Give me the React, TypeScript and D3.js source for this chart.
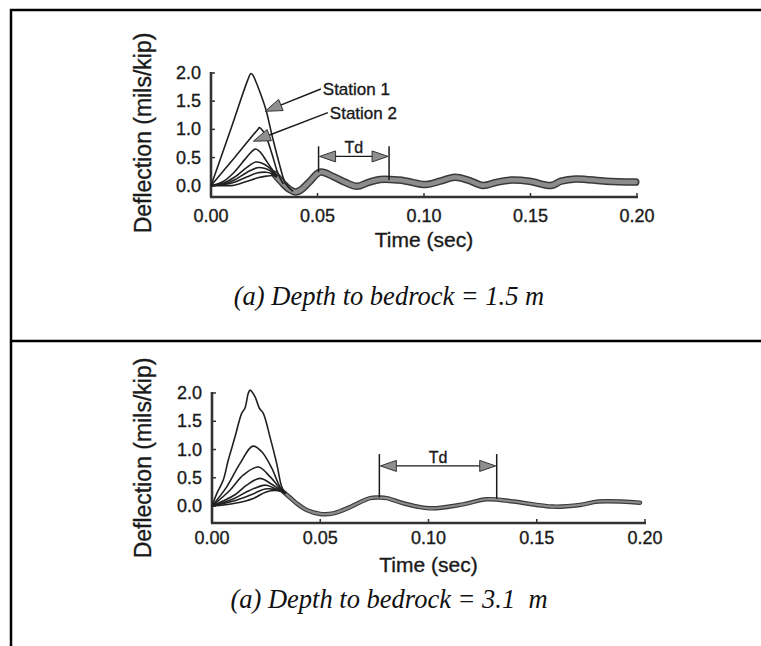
import React from 'react';
import * as d3 from 'd3';

// ---- data ----
const timeTicks = [0, 0.05, 0.1, 0.15, 0.2];
const deflTicks = [0, 0.5, 1.0, 1.5, 2.0];
const timeLabel = 'Time (sec)';
const deflLabel = 'Deflection (mils/kip)';

// Panel A: depth to bedrock 1.5 m  — [time (s), deflection (mils/kip)]
const shallowStations: [number, number][][] = [
  [[0, 0], [0.009, 0.97], [0.0175, 1.9], [0.0187, 1.99], [0.0197, 1.96], [0.0207, 1.88], [0.023, 1.66], [0.0257, 1.36], [0.0288, 0.87], [0.032, 0.4], [0.035, 0.04], [0.0385, -0.1]],
  [[0, 0], [0.0113, 0.51], [0.0218, 0.99], [0.0228, 1.03], [0.0242, 0.98], [0.0258, 0.88], [0.0285, 0.58], [0.0316, 0.2], [0.034, 0.03]],
  [[0, 0], [0.0055, 0.07], [0.0109, 0.24], [0.0171, 0.52], [0.0207, 0.65], [0.0225, 0.62], [0.0241, 0.55], [0.0255, 0.47], [0.0285, 0.3], [0.031, 0.17]],
  [[0, 0], [0.006, 0.05], [0.011, 0.15], [0.017, 0.33], [0.021, 0.42], [0.024, 0.4], [0.027, 0.33], [0.031, 0.17]],
  [[0, 0], [0.006, 0.03], [0.011, 0.1], [0.017, 0.24], [0.0218, 0.32], [0.025, 0.31], [0.028, 0.26], [0.031, 0.17]],
  [[0, 0], [0.006, 0.02], [0.011, 0.06], [0.017, 0.16], [0.022, 0.23], [0.026, 0.24], [0.028, 0.22], [0.031, 0.16]],
  [[0, 0], [0.006, 0.0], [0.011, 0.01], [0.017, 0.08], [0.022, 0.14], [0.026, 0.17], [0.029, 0.18], [0.031, 0.15]],
];
const shallowTail: [number, number][] = [
  [0.030, 0.2], [0.034, 0.03], [0.037, -0.07], [0.0397, -0.11], [0.042, -0.08], [0.046, 0.06], [0.0512, 0.24],
  [0.0575, 0.16], [0.063, 0.06], [0.0685, -0.01], [0.074, 0.06], [0.0794, 0.11], [0.088, 0.1], [0.092, 0.08],
  [0.101, 0.02], [0.1075, 0.08], [0.1145, 0.15], [0.1207, 0.1], [0.1277, 0.005], [0.134, 0.06], [0.141, 0.1],
  [0.1495, 0.08], [0.1597, 0.005], [0.1643, 0.08], [0.1713, 0.12], [0.1854, 0.08], [0.1994, 0.065],
];
const shallowTd = [0.0505, 0.0836];
const shallowCaption = '(a) Depth to bedrock = 1.5 m';

// Panel B: depth to bedrock 3.1 m
const deepStations: [number, number][][] = [
  [[0, 0], [0.0022, 0.22], [0.0052, 0.46], [0.0075, 0.81], [0.0106, 1.22], [0.0137, 1.64], [0.0152, 1.73], [0.0168, 2.0], [0.0176, 2.05], [0.0199, 1.93], [0.0219, 1.73], [0.0237, 1.64], [0.0268, 1.22], [0.0299, 0.75], [0.0322, 0.34], [0.034, 0.22]],
  [[0, 0], [0.0068, 0.34], [0.0129, 0.75], [0.0188, 1.06], [0.023, 0.96], [0.0276, 0.67], [0.0314, 0.34], [0.034, 0.22]],
  [[0, 0], [0.0083, 0.28], [0.0145, 0.55], [0.0214, 0.69], [0.0268, 0.52], [0.031, 0.33], [0.034, 0.22]],
  [[0, 0], [0.0106, 0.2], [0.016, 0.37], [0.0222, 0.49], [0.027, 0.4], [0.031, 0.3], [0.034, 0.22]],
  [[0, 0], [0.01, 0.13], [0.017, 0.27], [0.0245, 0.37], [0.028, 0.33], [0.031, 0.28], [0.034, 0.22]],
  [[0, 0], [0.01, 0.09], [0.018, 0.2], [0.0245, 0.3], [0.028, 0.3], [0.031, 0.27], [0.034, 0.22]],
  [[0, 0], [0.0106, 0.05], [0.0194, 0.14], [0.025, 0.25], [0.031, 0.27], [0.034, 0.22]],
];
const deepTail: [number, number][] = [
  [0.033, 0.25], [0.036, 0.15], [0.039, 0.05], [0.0437, -0.07], [0.05, -0.14], [0.056, -0.13], [0.0637, -0.02],
  [0.073, 0.14], [0.0776, 0.15], [0.0807, 0.14], [0.0884, 0.05], [0.1007, -0.04], [0.116, 0.03], [0.1269, 0.12],
  [0.1392, 0.08], [0.1576, -0.01], [0.17, 0.02], [0.1784, 0.08], [0.1977, 0.06],
];
const deepTd = [0.0773, 0.1315];
const deepCaption = '(a) Depth to bedrock = 3.1  m';

// station call-outs (panel A)
const stationNames = ['Station 1', 'Station 2'];
const stationTips: [number, number][] = [[0.0254, 1.32], [0.0199, 0.79]];
const stationTextPos: [number, number][] = [[0.0525, 1.61], [0.0558, 1.19]];

type Panel = {
  stations: [number, number][][];
  tail: [number, number][];
  td: number[];
  tdLevels: { top: number; arrow: number; text: number; leftBottom: number; rightBottom: number };
  caption: string;
  yMin: number;
  layout: { x0: number; x1: number; yTop: number; yBot: number; tickDy: number; titleY: number; capY: number; ylabY: number };
  tail1: number; tail2: number; callouts: boolean;
};

const panels: Panel[] = [
  {
    stations: shallowStations, tail: shallowTail, td: shallowTd, caption: shallowCaption, yMin: -0.2,
    tdLevels: { top: 0.7, arrow: 0.52, text: 0.585, leftBottom: 0.24, rightBottom: 0.1 },
    layout: { x0: 211, x1: 637, yTop: 73, yBot: 197, tickDy: 25, titleY: 247, capY: 305, ylabY: 133 },
    tail1: 7.5, tail2: 4.5, callouts: true,
  },
  {
    stations: deepStations, tail: deepTail, td: deepTd, caption: deepCaption, yMin: -0.3,
    tdLevels: { top: 0.92, arrow: 0.71, text: 0.76, leftBottom: 0.15, rightBottom: 0.13 },
    layout: { x0: 212, x1: 645, yTop: 393, yBot: 523, tickDy: 21, titleY: 572, capY: 608, ylabY: 458 },
    tail1: 4.5, tail2: 2.2, callouts: false,
  },
];

const SANS = '"Liberation Sans", Arial, sans-serif';
const SERIF = '"Liberation Serif", "Times New Roman", serif';
const INK = '#1a1a1a';
const sansStyle = { stroke: INK, strokeWidth: 0.35 } as const;

function triangle(tx: number, ty: number, fx: number, fy: number, len: number, half: number) {
  const dx = tx - fx, dy = ty - fy;
  const d = Math.hypot(dx, dy) || 1;
  const ux = dx / d, uy = dy / d;
  const bx = tx - ux * len, by = ty - uy * len;
  const px = -uy, py = ux;
  return `M${tx},${ty}L${bx + px * half},${by + py * half}L${bx - px * half},${by - py * half}Z`;
}

function PanelView({ p }: { p: Panel }) {
  const L = p.layout;
  const x = d3.scaleLinear().domain([0, 0.2]).range([L.x0, L.x1]);
  const y = d3.scaleLinear().domain([p.yMin, 2.0]).range([L.yBot, L.yTop]);
  const line = d3.line<[number, number]>().x(d => x(d[0])).y(d => y(d[1])).curve(d3.curveCatmullRom.alpha(0.5));
  const axisColor = '#333';
  const [t1, t2] = p.td;
  const lv = p.tdLevels;
  return (
    <g>
      <line x1={x(0)} x2={x(0)} y1={y(2.0) - 1} y2={y(p.yMin)} stroke={axisColor} strokeWidth={2.6} />
      <line x1={x(0) - 1} x2={x(0.2) + 1} y1={y(p.yMin)} y2={y(p.yMin)} stroke={axisColor} strokeWidth={2.4} />
      {deflTicks.map(v => (
        <g key={'y' + v}>
          <line x1={x(0)} x2={x(0) + 4} y1={y(v)} y2={y(v)} stroke={axisColor} strokeWidth={1.5} />
          <text x={x(0) - 10} y={y(v) + 6} textAnchor="end" fontFamily={SANS} fontSize={18} fill={INK} {...sansStyle}>{v.toFixed(1)}</text>
        </g>
      ))}
      {timeTicks.map(t => (
        <g key={'x' + t}>
          <line x1={x(t)} x2={x(t)} y1={y(p.yMin)} y2={y(p.yMin) - 4} stroke={axisColor} strokeWidth={1.5} />
          <text x={x(t)} y={y(p.yMin) + L.tickDy} textAnchor="middle" fontFamily={SANS} fontSize={18} fill={INK} {...sansStyle}>{t.toFixed(2)}</text>
        </g>
      ))}
      <text x={(x(0) + x(0.2)) / 2} y={L.titleY} textAnchor="middle" fontFamily={SANS} fontSize={21} fill={INK} {...sansStyle}>{timeLabel}</text>
      <text transform={`translate(151,${L.ylabY}) rotate(-90)`} textAnchor="middle" fontFamily={SANS} fontSize={23} fill={INK} {...sansStyle}>{deflLabel}</text>

      <path d={line(p.tail) || ''} fill="none" stroke="#3a3a3a" strokeWidth={p.tail1} strokeLinecap="round" />
      <path d={line(p.tail) || ''} fill="none" stroke="#8c8c8c" strokeWidth={p.tail2} strokeLinecap="round" />
      {p.stations.map((s, i) => (
        <path key={i} d={line(s) || ''} fill="none" stroke="#202020" strokeWidth={1.6} strokeLinejoin="round" />
      ))}

      <line x1={x(t1)} x2={x(t1)} y1={y(lv.top)} y2={y(lv.leftBottom)} stroke={INK} strokeWidth={1.5} />
      <line x1={x(t2)} x2={x(t2)} y1={y(lv.top)} y2={y(lv.rightBottom)} stroke={INK} strokeWidth={1.5} />
      <line x1={x(t1) + 12} x2={x(t2) - 12} y1={y(lv.arrow)} y2={y(lv.arrow)} stroke={INK} strokeWidth={1.3} />
      <path d={triangle(x(t1) + 1, y(lv.arrow), x(t2), y(lv.arrow), 16, 5.5)} fill="#8f8f8f" stroke="#333" strokeWidth={1} />
      <path d={triangle(x(t2) - 1, y(lv.arrow), x(t1), y(lv.arrow), 16, 5.5)} fill="#8f8f8f" stroke="#333" strokeWidth={1} />
      <text x={x((t1 + t2) / 2)} y={y(lv.text)} textAnchor="middle" fontFamily={SANS} fontSize={16} fill={INK} {...sansStyle}>Td</text>

      {p.callouts && stationNames.map((name, i) => {
        const [tt, tv] = stationTips[i];
        const [lt, lvv] = stationTextPos[i];
        const tx = x(tt), ty = y(tv);
        const ex = x(lt) - 2, ey = y(lvv) - 6;
        return (
          <g key={name}>
            <line x1={ex} y1={ey} x2={tx + (ex - tx) * 0.2} y2={ty + (ey - ty) * 0.2} stroke={INK} strokeWidth={1.4} />
            <path d={triangle(tx, ty, ex, ey, 17, 6)} fill="#8f8f8f" stroke="#333" strokeWidth={1} />
            <text x={x(lt)} y={y(lvv)} fontFamily={SANS} fontSize={17} fill={INK} {...sansStyle}>{name}</text>
          </g>
        );
      })}

      <text x={389} y={L.capY} textAnchor="middle" fontFamily={SERIF} fontStyle="italic" fontSize={26.5} fill="#111" style={{ whiteSpace: 'pre' }}>{p.caption}</text>
    </g>
  );
}

export default function App() {
  return (
    <svg width={761} height={646} style={{ position: 'absolute', left: 0, top: 0, background: '#fff' }}>
      <rect x={0} y={0} width={761} height={646} fill="#fff" />
      <line x1={10} x2={761} y1={10} y2={10} stroke="#000" strokeWidth={2.5} />
      <line x1={10} x2={761} y1={341} y2={341} stroke="#000" strokeWidth={2.5} />
      <line x1={11} x2={11} y1={9} y2={646} stroke="#000" strokeWidth={2.5} />
      {panels.map((p, i) => <PanelView key={i} p={p} />)}
    </svg>
  );
}
